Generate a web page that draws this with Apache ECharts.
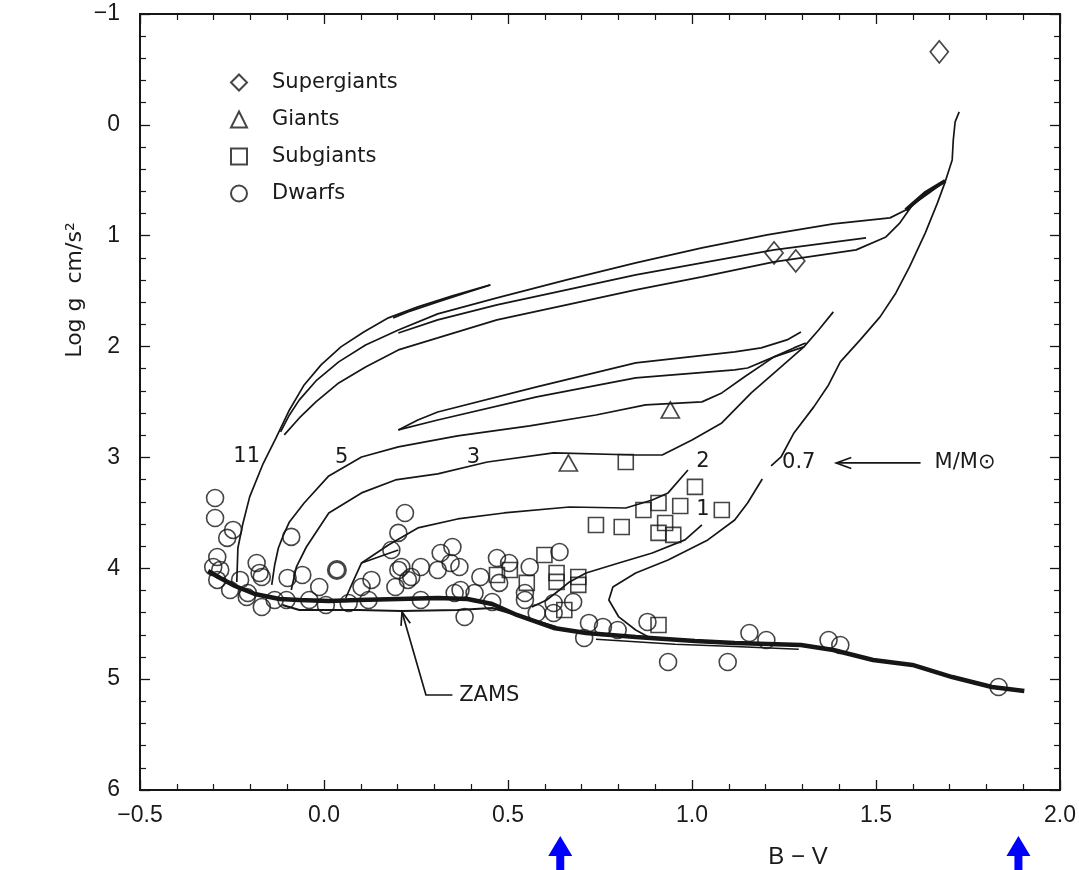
<!DOCTYPE html>
<html><head><meta charset="utf-8">
<script src="https://cdn.jsdelivr.net/npm/echarts@6/dist/echarts.min.js"></script>
<style>html,body{margin:0;padding:0;background:#fff}#c{width:1079px;height:870px}</style>
</head><body><div id="c"></div>
<script>
// ---- axis ticks ----
const xTicks = [-0.5, 0.0, 0.5, 1.0, 1.5, 2.0];
const yTicks = [-1, 0, 1, 2, 3, 4, 5, 6];

// ---- observed stars [B-V, log g] ----
const supergiants = [[1.672,-0.659],[1.223,1.155],[1.282,1.227]];
const giants = [[0.664,3.050],[0.941,2.572]];
const subgiants = [[0.820,3.041],[1.008,3.266],[0.909,3.411],[0.868,3.474],[0.968,3.438],[1.081,3.474],
  [0.739,3.609],[0.809,3.627],[0.927,3.591],[0.909,3.681],[0.949,3.699],[0.599,3.880],[0.632,4.042],
  [0.632,4.123],[0.691,4.078],[0.691,4.150],[0.551,4.132],[0.470,4.060],[0.505,4.015],[0.653,4.376],[0.909,4.511]];
const dwarfs = [[-0.296,3.366],[-0.296,3.546],[-0.247,3.654],[-0.263,3.726],[-0.089,3.717],[0.220,3.501],
  [0.202,3.681],[-0.290,3.898],[-0.301,3.988],[-0.183,3.952],[-0.175,4.042],[-0.290,4.105],[-0.099,4.087],
  [-0.059,4.060],[-0.013,4.169],[-0.255,4.196],[-0.210,4.259],[-0.169,4.349],[-0.040,4.286],[0.005,4.331],
  [0.067,4.313],[0.102,4.169],[0.129,4.105],[0.183,3.835],[0.210,3.988],[0.263,3.988],[0.317,3.862],
  [0.349,3.808],[0.355,4.223],[0.263,4.286],[0.194,4.169],[0.237,4.078],[0.309,4.015],[0.344,3.952],
  [0.368,3.988],[0.470,3.907],[0.425,4.078],[0.476,4.132],[0.409,4.223],[0.382,4.439],[0.457,4.304],
  [0.503,3.952],[0.559,3.988],[0.640,3.853],[0.546,4.223],[0.546,4.286],[0.624,4.313],[0.677,4.304],
  [0.578,4.403],[0.624,4.403],[0.720,4.493],[0.758,4.529],[0.707,4.629],[0.798,4.557],[0.879,4.484],
  [0.935,4.845],[1.097,4.845],[1.156,4.584],[1.202,4.647],[1.371,4.647],[1.403,4.692],[1.833,5.071],
  [-0.282,4.015],[-0.228,4.105],[-0.169,4.078],[-0.207,4.223],[-0.134,4.286],[-0.102,4.286],[0.121,4.286],
  [0.371,4.196],[0.228,4.105],[0.202,4.015]];
const dwarfsBold = [[0.035,4.015]];

// ---- ZAMS and evolutionary tracks [B-V, log g] ----
const zams = [[-0.315,4.024],[-0.282,4.087],[-0.242,4.160],[-0.188,4.232],[-0.121,4.277],[-0.067,4.286],
  [0.013,4.295],[0.094,4.286],[0.202,4.277],[0.309,4.268],[0.390,4.277],[0.457,4.322],[0.524,4.421],
  [0.624,4.538],[0.712,4.584],[0.847,4.620],[1.008,4.656],[1.116,4.674],[1.296,4.692],[1.384,4.737],
  [1.492,4.827],[1.599,4.872],[1.707,4.981],[1.815,5.071],[1.903,5.107]];
const zamsLower = [[-0.113,4.331],[-0.067,4.376],[0.094,4.376],[0.210,4.385],[0.363,4.376],[0.457,4.358],
  [0.551,4.448],[0.632,4.529]];
const msTail = [[0.739,4.640],[0.954,4.685],[1.116,4.705],[1.290,4.730]];
const track11 = [[-0.237,4.123],[-0.234,3.817],[-0.220,3.591],[-0.202,3.356],[-0.167,3.068],[-0.129,2.815],
  [-0.094,2.572],[-0.054,2.346],[-0.008,2.165],[0.046,2.003],[0.108,1.868],[0.175,1.741],[0.255,1.642],
  [0.349,1.543],[0.452,1.444]];
const track11Return = [[0.452,1.444],[0.376,1.525],[0.309,1.597],[0.228,1.687],[0.188,1.741]];
const trackA = [[-0.118,2.770],[-0.094,2.617],[-0.067,2.481],[-0.022,2.310],[0.040,2.138],[0.113,1.985],
  [0.202,1.850],[0.309,1.705],[0.470,1.561],[0.659,1.399],[0.847,1.245],[1.027,1.110],[1.204,0.993],
  [1.384,0.893],[1.538,0.839],[1.581,0.767],[1.634,0.614],[1.688,0.505]];
const trackB = [[0.202,1.877],[0.309,1.759],[0.470,1.624],[0.659,1.489],[0.847,1.353],[1.027,1.245],
  [1.223,1.128],[1.473,1.020]];
const trackC = [[-0.108,2.797],[-0.067,2.644],[-0.022,2.499],[0.040,2.328],[0.113,2.184],[0.202,2.030],
  [0.309,1.922],[0.470,1.759],[0.659,1.624],[0.847,1.489],[1.027,1.371],[1.223,1.236],[1.446,1.128],
  [1.527,1.011],[1.565,0.884],[1.599,0.722],[1.645,0.614],[1.688,0.505]];
const rgbJoin = [[1.581,0.767],[1.634,0.614],[1.688,0.505]];
const track07Upper = [[1.726,-0.117],[1.715,-0.027],[1.710,0.135],[1.707,0.316],[1.688,0.514],[1.667,0.704],
  [1.634,0.974],[1.591,1.281],[1.554,1.516],[1.511,1.732],[1.457,1.940],[1.403,2.138],[1.371,2.346],
  [1.331,2.544],[1.277,2.779],[1.242,2.996],[1.215,3.077]];
const track07Lower = [[1.191,3.195],[1.151,3.411],[1.116,3.564],[1.043,3.744],[0.935,3.925],[0.847,4.042],
  [0.785,4.169],[0.774,4.286],[0.801,4.439],[0.847,4.557],[0.887,4.629]];
const track5 = [[-0.142,4.150],[-0.134,3.970],[-0.124,3.817],[-0.110,3.699],[-0.094,3.582],[-0.054,3.411],
  [0.013,3.167],[0.102,2.996],[0.202,2.905],[0.363,2.806],[0.559,2.716],[0.739,2.617],[0.874,2.526],
  [1.027,2.499],[1.081,2.418],[1.142,2.274],[1.223,2.093],[1.277,2.012],[1.309,1.967]];
const loop5Upper = [[0.202,2.752],[0.255,2.662],[0.309,2.590],[0.578,2.364],[0.847,2.147],[1.116,2.048],
  [1.188,2.012],[1.258,1.940],[1.296,1.868]];
const loop5Lower = [[0.202,2.752],[0.309,2.662],[0.578,2.454],[0.847,2.283],[1.116,2.211],[1.151,2.193],
  [1.223,2.093],[1.304,2.003],[1.344,1.850],[1.384,1.687]];
const track3 = [[-0.089,4.196],[-0.075,3.988],[-0.048,3.808],[0.013,3.501],[0.102,3.320],[0.194,3.203],
  [0.309,3.149],[0.444,3.041],[0.624,2.959],[0.847,2.978],[0.919,2.978],[1.000,2.842],[1.081,2.689],
  [1.161,2.418],[1.242,2.184],[1.304,2.003]];
const track2 = [[0.059,4.268],[0.081,4.105],[0.102,3.952],[0.175,3.790],[0.255,3.636],[0.363,3.555],
  [0.489,3.501],[0.667,3.447],[0.820,3.456],[0.892,3.384],[0.935,3.320],[0.989,3.113]];
const track2Hook = [[0.102,3.952],[0.202,3.835]];
const track1 = [[0.565,4.350],[0.605,4.286],[0.640,4.196],[0.667,4.123],[0.712,4.042],[0.801,3.952],
  [0.892,3.862],[0.981,3.744],[1.027,3.609]];

// ---- text annotations [text, B-V, log g] ----
const trackLabels = [['11',-0.210,2.996],['5',0.048,3.005],['3',0.406,3.005],['2',1.030,3.041],
  ['1',1.030,3.474],['0.7',1.290,3.050],['M/M\u2299',1.742,3.050],['ZAMS',0.449,5.152]];
const zamsPointer = [[0.212,4.394],[0.277,5.143],[0.349,5.143]];
const massArrow = [[1.621,3.050],[1.392,3.050]];
const blueArrowsX = [0.642, 1.887];

const INK = '#161616';
const TXT = '#1a1a1a';
const chart = echarts.init(document.getElementById('c'), null, {renderer:'canvas'});

function line(name, data, width) {
  return {type:'line', name:name, data:data, symbol:'none', showSymbol:false, silent:true,
    lineStyle:{color:INK, width:width}, z:2, animation:false};
}
function pts(name, data, symbol, size, bw) {
  return {type:'scatter', name:name, data:data, symbol:symbol, symbolSize:size, z:3, animation:false,
    itemStyle:{color:'rgba(0,0,0,0)', borderColor:INK, borderWidth:bw||1.6}};
}
const axisCommon = {type:'value', axisLine:{show:true, onZero:false, lineStyle:{color:INK, width:2}},
  axisTick:{show:true, inside:true, length:10, lineStyle:{color:INK, width:1.3}},
  minorTick:{show:true, splitNumber:5, length:6, lineStyle:{color:INK, width:1.2}},
  splitLine:{show:false}, minorSplitLine:{show:false}};

const fmtX = v => (v < 0 ? '\u2212' : '') + Math.abs(v).toFixed(1);
const fmtY = v => (v < 0 ? '\u2212' : '') + Math.abs(v);

chart.setOption({
  backgroundColor:'#fff',
  animation:false,
  grid:{left:140, right:10, top:14, bottom:80, show:true, borderColor:INK, borderWidth:2, backgroundColor:'transparent'},
  xAxis:[
    Object.assign({}, axisCommon, {min:xTicks[0], max:xTicks[xTicks.length-1], interval:0.5, position:'bottom',
      axisLabel:{formatter:fmtX, fontFamily:'Liberation Sans', fontSize:23, color:TXT, margin:14}}),
    Object.assign({}, axisCommon, {min:xTicks[0], max:xTicks[xTicks.length-1], interval:0.5, position:'top',
      axisLabel:{show:false}})
  ],
  yAxis:[
    Object.assign({}, axisCommon, {min:yTicks[0], max:yTicks[yTicks.length-1], interval:1, inverse:true, position:'left',
      axisLabel:{formatter:fmtY, fontFamily:'Liberation Sans', fontSize:23, color:TXT, margin:20}}),
    Object.assign({}, axisCommon, {min:yTicks[0], max:yTicks[yTicks.length-1], interval:1, inverse:true, position:'right',
      axisLabel:{show:false}})
  ],
  legend:{data:['Supergiants','Giants','Subgiants','Dwarfs'], orient:'vertical', left:225, top:67,
    itemWidth:16, itemHeight:16, itemGap:16, selectedMode:false,
    formatter:'{t|{name}}',
    textStyle:{rich:{t:{fontFamily:'DejaVu Sans', fontSize:21, color:TXT, padding:[0,0,0,20], lineHeight:20}}}},
  series:[
    line('zams', zams, 4.5),
    line('zamsLower', zamsLower, 2),
    line('msTail', msTail, 1.5),
    line('track11', track11, 1.7),
    line('track11Return', track11Return, 1.7),
    line('trackA', trackA, 1.7),
    line('trackB', trackB, 1.7),
    line('trackC', trackC, 1.7),
    line('rgbJoin', rgbJoin, 4),
    line('track07Upper', track07Upper, 1.7),
    line('track07Lower', track07Lower, 1.7),
    line('track5', track5, 1.7),
    line('loop5Upper', loop5Upper, 1.7),
    line('loop5Lower', loop5Lower, 1.7),
    line('track3', track3, 1.7),
    line('track2', track2, 1.7),
    line('track2Hook', track2Hook, 1.7),
    line('track1', track1, 1.7),
    pts('Supergiants', supergiants, 'diamond', [18,22], 1.7),
    pts('Giants', giants, 'triangle', [18,16], 1.7),
    pts('Subgiants', subgiants, 'rect', 15, 1.6),
    pts('Dwarfs', dwarfs, 'circle', 17, 1.6),
    pts('DwarfsBold', dwarfsBold, 'circle', 17, 3)
  ]
});

// annotation graphics positioned through the axes
function px(v){ return chart.convertToPixel({gridIndex:0}, v); }
function head(tip, from, len, ang){
  const dx = from[0]-tip[0], dy = from[1]-tip[1];
  const L = Math.hypot(dx,dy), ux = dx/L, uy = dy/L;
  const rot = (a) => [tip[0] + len*(ux*Math.cos(a) - uy*Math.sin(a)), tip[1] + len*(ux*Math.sin(a) + uy*Math.cos(a))];
  return [rot(ang), tip, rot(-ang)];
}
const zp = zamsPointer.map(px);
const ma = massArrow.map(px);
const gfx = [
  {type:'polyline', shape:{points:zp}, style:{stroke:INK, lineWidth:1.7, fill:null}, z:10},
  {type:'polyline', shape:{points:head(zp[0], zp[1], 14, 0.35)}, style:{stroke:INK, lineWidth:1.7, fill:null}, z:10},
  {type:'polyline', shape:{points:ma}, style:{stroke:INK, lineWidth:1.7, fill:null}, z:10},
  {type:'polyline', shape:{points:head(ma[1], ma[0], 16, 0.35)}, style:{stroke:INK, lineWidth:1.7, fill:null}, z:10},
  {type:'text', x:75, y:290, rotation:Math.PI/2, style:{text:'Log g  cm/s\u00b2', font:'22px "DejaVu Sans"', fill:TXT, textAlign:'center', textVerticalAlign:'middle'}, z:10},
  {type:'text', x:798, y:857, style:{text:'B \u2212 V', font:'24px "Liberation Sans"', fill:TXT, textAlign:'center', textVerticalAlign:'middle'}, z:10}
];
trackLabels.forEach(d => {
  const p = px([d[1], d[2]]);
  gfx.push({type:'text', x:p[0], y:p[1], style:{text:d[0], font:'21px "DejaVu Sans"', fill:TXT, textAlign:'center', textVerticalAlign:'middle'}, z:10});
});
blueArrowsX.forEach(v => {
  const x = chart.convertToPixel({xAxisIndex:0}, v);
  gfx.push({type:'polygon', shape:{points:[[x,836],[x+12,856],[x+4,856],[x+4,870],[x-4,870],[x-4,856],[x-12,856]]},
    style:{fill:'#0000ff'}, z:10});
});
chart.setOption({graphic:gfx});
</script>
</body></html>
